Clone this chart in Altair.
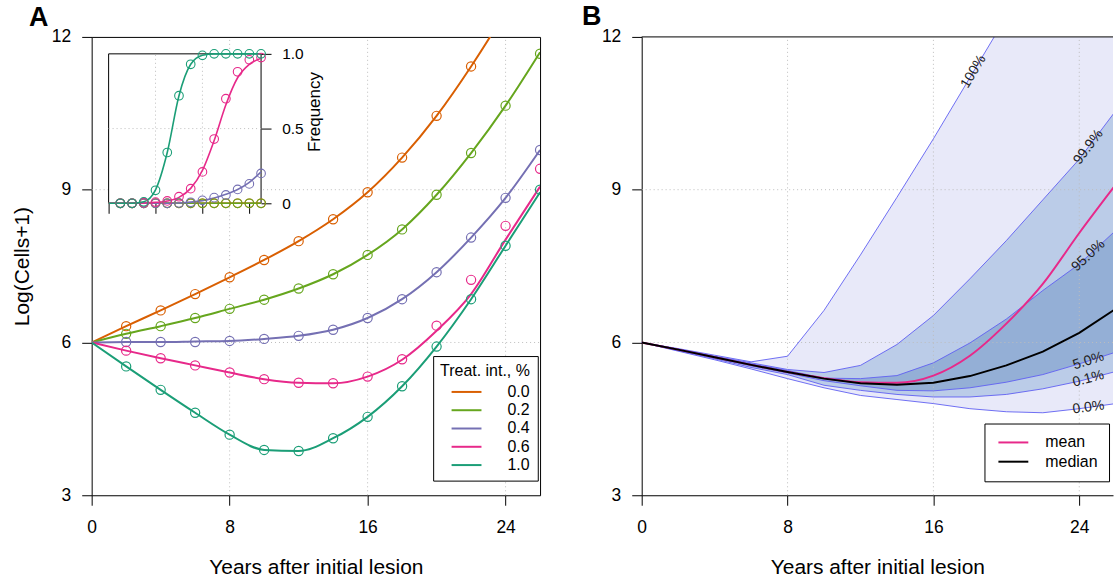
import altair as alt
import numpy as np
import pandas as pd

FONT = "Liberation Sans"
GRID = "#BDBDBD"

# ---------------- Panel A: growth under different treatment intensities ----------------
years_fit = [0, 2, 4, 6, 8, 10, 12, 14, 16, 18, 20, 22, 24, 26]
years_sim = [2, 4, 6, 8, 10, 12, 14, 16, 18, 20, 22, 24, 26]
treatments = ["0.0", "0.2", "0.4", "0.6", "1.0"]
treat_colors = ["#D95F02", "#66A61E", "#7570B3", "#E7298A", "#1B9E77"]

# fitted trajectories, log(cells+1)
fit_00 = [6.00, 6.32, 6.63, 6.95, 7.28, 7.62, 7.99, 8.42, 8.95, 9.63, 10.45, 11.42, 12.50, 13.70]
fit_02 = [6.00, 6.17, 6.32, 6.48, 6.66, 6.84, 7.06, 7.34, 7.72, 8.22, 8.90, 9.72, 10.65, 11.70]
fit_04 = [6.00, 6.01, 6.01, 6.02, 6.03, 6.07, 6.13, 6.25, 6.48, 6.85, 7.38, 8.06, 8.84, 9.78]
fit_06 = [6.00, 5.84, 5.69, 5.55, 5.41, 5.28, 5.21, 5.20, 5.33, 5.66, 6.23, 6.95, 8.02, 9.06]
fit_10 = [6.00, 5.53, 5.07, 4.62, 4.19, 3.89, 3.87, 4.12, 4.54, 5.14, 5.92, 6.85, 7.90, 8.95]

# simulated averages, log(cells+1)
sim_00 = [6.32, 6.63, 6.95, 7.28, 7.62, 7.99, 8.42, 8.95, 9.63, 10.45, 11.42, 12.55, 13.75]
sim_02 = [6.17, 6.32, 6.48, 6.66, 6.84, 7.06, 7.34, 7.72, 8.22, 8.90, 9.72, 10.65, 11.67]
sim_04 = [6.01, 6.01, 6.01, 6.03, 6.07, 6.13, 6.25, 6.48, 6.85, 7.38, 8.06, 8.84, 9.78]
sim_06 = [5.84, 5.69, 5.55, 5.41, 5.28, 5.21, 5.20, 5.33, 5.67, 6.33, 7.23, 8.29, 9.41]
sim_10 = [5.53, 5.07, 4.62, 4.19, 3.89, 3.87, 4.12, 4.54, 5.14, 5.92, 6.85, 7.90, 9.00]

# inset: frequency of resistant cells
freq_fit_00 = [0, 0, 0, 0, 0, 0, 0, 0, 0, 0, 0, 0, 0, 0]
freq_fit_02 = [0, 0, 0, 0, 0, 0, 0, 0, 0, 0, 0, 0, 0, 0]
freq_fit_04 = [0, 0, 0, 0, 0, 0, 0.002, 0.008, 0.018, 0.035, 0.06, 0.092, 0.14, 0.21]
freq_fit_06 = [0, 0, 0, 0.002, 0.006, 0.015, 0.04, 0.10, 0.22, 0.42, 0.66, 0.84, 0.93, 0.97]
freq_fit_10 = [0, 0, 0, 0.01, 0.09, 0.34, 0.72, 0.93, 0.99, 1.0, 1.0, 1.0, 1.0, 1.0]

freq_sim_00 = [0, 0, 0, 0, 0, 0, 0, 0, 0, 0, 0, 0, 0]
freq_sim_02 = [0, 0, 0, 0, 0, 0, 0, 0, 0, 0, 0, 0, 0]
freq_sim_04 = [0, 0, 0, 0, 0, 0.002, 0.007, 0.02, 0.038, 0.056, 0.093, 0.13, 0.2]
freq_sim_06 = [0, 0, 0.004, 0.008, 0.016, 0.044, 0.098, 0.21, 0.43, 0.70, 0.88, 0.96, 0.975]
freq_sim_10 = [0, 0, 0.01, 0.087, 0.34, 0.72, 0.93, 0.99, 1.0, 1.0, 1.0, 1.0, 1.0]

x_ticks = [0, 8, 16, 24]
y_ticks = [3, 6, 9, 12]
x_grid = [8, 16, 24]
y_grid = [6, 9]
inset_x_ticks = [0, 8, 16, 24]
inset_y_ticks = [0, 0.5, 1]
inset_x_grid = [8, 16]
inset_y_grid = [0.5]

# ---------------- Panel B: distribution of simulated outcomes ----------------
years_b = [0, 2, 4, 6, 8, 10, 12, 14, 16, 18, 20, 22, 24, 26]
q000 = [6.0, 5.83, 5.66, 5.48, 5.29, 5.11, 4.96, 4.88, 4.80, 4.70, 4.64, 4.62, 4.70, 4.80]
q001 = [6.0, 5.84, 5.68, 5.51, 5.37, 5.16, 5.06, 4.98, 4.93, 4.93, 4.98, 5.09, 5.24, 5.43]
q050 = [6.0, 5.85, 5.70, 5.54, 5.40, 5.25, 5.15, 5.06, 5.05, 5.11, 5.22, 5.37, 5.58, 5.81]
q950 = [6.0, 5.87, 5.72, 5.58, 5.45, 5.30, 5.29, 5.35, 5.60, 5.99, 6.46, 7.02, 7.54, 8.20]
q999 = [6.0, 5.87, 5.73, 5.60, 5.47, 5.41, 5.55, 5.96, 6.53, 7.25, 8.00, 8.80, 9.60, 10.55]
q100 = [6.0, 5.88, 5.75, 5.62, 5.73, 6.63, 7.72, 8.85, 10.0, 11.2, 12.4, 13.5, 14.7, 15.8]
median_b = [6.0, 5.86, 5.71, 5.56, 5.42, 5.29, 5.20, 5.17, 5.21, 5.34, 5.55, 5.82, 6.19, 6.66]
mean_b = [6.0, 5.86, 5.71, 5.56, 5.42, 5.30, 5.22, 5.21, 5.35, 5.74, 6.37, 7.15, 8.15, 9.10]
band_labels = ["0.0%", "0.1%", "5.0%", "95.0%", "99.9%", "100%"]
band_label_years = [24.5, 24.5, 24.5, 24.5, 24.5, 18.2]

WIDTH_A, WIDTH_B, HEIGHT = 450, 473, 460
XMAX_A, XMAX_B = 26, 25.85
Y_DOMAIN = [3, 12]


def long_frame(years, series, name):
    rows = []
    for trt, vals in zip(treatments, series):
        for yr, v in zip(years, vals):
            rows.append({"year": yr, name: v, "treat": trt})
    return pd.DataFrame(rows)


df_fit = long_frame(years_fit, [fit_00, fit_02, fit_04, fit_06, fit_10], "logc")
df_sim = long_frame(years_sim, [sim_00, sim_02, sim_04, sim_06, sim_10], "logc")
df_ffit = long_frame(years_fit, [freq_fit_00, freq_fit_02, freq_fit_04, freq_fit_06, freq_fit_10], "freq")
df_fsim = long_frame(years_sim, [freq_sim_00, freq_sim_02, freq_sim_04, freq_sim_06, freq_sim_10], "freq")


def x_axis(width, domain):
    return alt.Axis(
        values=x_ticks, title="Years after initial lesion", grid=False,
        domain=domain, domainColor="black", domainWidth=1,
        tickSize=10, tickColor="black", tickWidth=1,
        labelPadding=13, labelFontSize=17.5, labelColor="black", labelFont=FONT,
        labelFlush=False, labelOverlap=False,
        titleFont=FONT, titleFontSize=21, titleFontWeight="normal", titleColor="black",
        titleX=width / 2, titleY=62, titleAlign="center", titleBaseline="top",
    )


def y_axis(title, domain):
    kw = dict(
        values=y_ticks, grid=False, domain=domain, domainColor="black", domainWidth=1,
        tickSize=10, tickColor="black", tickWidth=1,
        labelPadding=11, labelFontSize=17.5, labelColor="black", labelFont=FONT,
        labelFlush=False, labelOverlap=False,
    )
    if title:
        kw.update(title=title, titleFont=FONT, titleFontSize=21, titleFontWeight="normal",
                  titleColor="black", titleAngle=270, titleX=-63.7, titleY=HEIGHT / 2,
                  titleAlign="center", titleBaseline="alphabetic")
    else:
        kw.update(title=None)
    return alt.Axis(**kw)


# ---- Panel A main plot ----
legend_a = alt.Legend(
    title="Treat. int., %", orient="none", legendX=342.7, legendY=320.3,
    fillColor="white", strokeColor="black", padding=7,
    titleFont=FONT, titleFontSize=16, titleFontWeight="normal", titleColor="black", titlePadding=5,
    labelFont=FONT, labelFontSize=16, labelColor="black",
    symbolType="M-3,0H3", symbolSize=100, symbolStrokeWidth=2, symbolFillColor="transparent",
    symbolOffset=18.5, labelOffset=33, rowPadding=2.35,
)
color_a = alt.Color("treat:N", scale=alt.Scale(domain=treatments, range=treat_colors), legend=legend_a)

x_a_scale = alt.Scale(domain=[0, XMAX_A], nice=False, zero=False)
y_scale = alt.Scale(domain=Y_DOMAIN, nice=False, zero=False)
x_a = alt.X("year:Q", scale=x_a_scale, axis=x_axis(WIDTH_A, False))
y_a = alt.Y("logc:Q", scale=y_scale, axis=y_axis("Log(Cells+1)", False))

grid_a_v = alt.Chart(pd.DataFrame({"year": x_grid})).mark_rule(
    color=GRID, strokeDash=[1, 3], strokeWidth=1
).encode(x=x_a, y=alt.datum(Y_DOMAIN[0]), y2=alt.datum(Y_DOMAIN[1]))
grid_a_h = alt.Chart(pd.DataFrame({"logc": y_grid})).mark_rule(
    color=GRID, strokeDash=[1, 3], strokeWidth=1
).encode(y=y_a, x=alt.datum(0), x2=alt.datum(XMAX_A))

lines_a = alt.Chart(df_fit).mark_line(strokeWidth=2, interpolate="monotone", clip=True).encode(
    x=x_a, y=y_a, color=color_a
)
pts_a = alt.Chart(df_sim).mark_point(
    shape="circle", filled=False, size=85, strokeWidth=1.2, opacity=1, clip=True
).encode(x=x_a, y=y_a, color=color_a)
tag_a = alt.Chart(pd.DataFrame({"tag": ["A"]})).mark_text(
    font=FONT, fontSize=27, fontWeight="bold", align="left", baseline="alphabetic", color="black"
).encode(x=alt.value(-63), y=alt.value(-11), text="tag:N")

main_a = alt.layer(grid_a_v, grid_a_h, lines_a, pts_a, tag_a)

# ---- Panel A inset (frequency) ----
x_in_scale = alt.Scale(domain=[0, XMAX_A], range=[17, 170], nice=False, zero=False)
y_in_scale = alt.Scale(domain=[0, 1], range=[167, 17], nice=False, zero=False)
x_in_axis = alt.Axis(
    values=inset_x_ticks, labels=False, title=None, grid=False, domain=False,
    orient="bottom", offset=-293, tickSize=10, tickColor="black", tickWidth=1,
)
y_in_axis = alt.Axis(
    values=inset_y_ticks, orient="right", offset=-280, grid=False, domain=False,
    tickSize=10, tickColor="black", tickWidth=1,
    labelExpr="datum.value == 0 ? '0' : format(datum.value, '.1f')",
    labelPadding=10.7, labelFontSize=15.5, labelColor="black", labelFont=FONT,
    labelFlush=False, labelOverlap=False, labelBaseline="middle",
    title="Frequency", titleFont=FONT, titleFontSize=17, titleFontWeight="normal",
    titleColor="black", titleAngle=270, titleX=59, titleY=75,
    titleAlign="center", titleBaseline="alphabetic",
)
x_in = alt.X("year:Q", scale=x_in_scale, axis=x_in_axis)
y_in = alt.Y("freq:Q", scale=y_in_scale, axis=y_in_axis)

box_in = alt.Chart(pd.DataFrame({"year": [0], "year2": [XMAX_A], "freq": [0], "freq2": [1]})).mark_rect(
    fill="white", stroke="black", strokeWidth=1
).encode(x=x_in, x2="year2:Q", y=y_in, y2="freq2:Q")
grid_in_v = alt.Chart(pd.DataFrame({"year": inset_x_grid})).mark_rule(
    color=GRID, strokeDash=[1, 3], strokeWidth=1
).encode(x=x_in, y=alt.datum(0), y2=alt.datum(1))
grid_in_h = alt.Chart(pd.DataFrame({"freq": inset_y_grid})).mark_rule(
    color=GRID, strokeDash=[1, 3], strokeWidth=1
).encode(y=y_in, x=alt.datum(0), x2=alt.datum(XMAX_A))
lines_in = alt.Chart(df_ffit).mark_line(strokeWidth=1.6, interpolate="monotone").encode(
    x=x_in, y=y_in, color=color_a
)
pts_in = alt.Chart(df_fsim).mark_point(
    shape="circle", filled=False, size=75, strokeWidth=1.1, opacity=1
).encode(x=x_in, y=y_in, color=color_a)

inset_a = alt.layer(box_in, grid_in_v, grid_in_h, lines_in, pts_in)

panel_a = alt.layer(main_a, inset_a).resolve_scale(x="independent", y="independent").properties(
    width=WIDTH_A, height=HEIGHT, view=alt.ViewBackground(stroke="black", strokeWidth=1)
)

# ---- Panel B ----
df_b = pd.DataFrame({
    "year": years_b, "q000": q000, "q001": q001, "q050": q050,
    "q950": q950, "q999": q999, "q100": q100,
})
band_cols = ["q000", "q001", "q050", "q950", "q999", "q100"]
df_qlines = df_b.melt(id_vars="year", value_vars=band_cols, var_name="quant", value_name="logc")
df_stat = pd.concat([
    pd.DataFrame({"year": years_b, "logc": mean_b, "stat": "mean"}),
    pd.DataFrame({"year": years_b, "logc": median_b, "stat": "median"}),
])

# labels sit on their quantile line, rotated along the local slope
px_per_year = WIDTH_B / XMAX_B
px_per_unit = HEIGHT / (Y_DOMAIN[1] - Y_DOMAIN[0])
lab_rows = []
for name, col, t_lab in zip(band_labels, band_cols, band_label_years):
    vals = df_b[col].to_numpy()
    v = float(np.interp(t_lab, years_b, vals))
    i = int(np.searchsorted(years_b, t_lab))
    slope = (vals[i] - vals[i - 1]) / (years_b[i] - years_b[i - 1])
    ang = np.degrees(np.arctan(slope * px_per_unit / px_per_year))
    lab_rows.append({"year": t_lab, "logc": v, "angle": (360 - ang) % 360, "label": name})
df_lab = pd.DataFrame(lab_rows)

x_b_scale = alt.Scale(domain=[0, XMAX_B], nice=False, zero=False)
x_b = alt.X("year:Q", scale=x_b_scale, axis=x_axis(WIDTH_B, True))
y_b = alt.Y("logc:Q", scale=y_scale, axis=y_axis(None, True))


def band(lo, hi, fill):
    return alt.Chart(df_b).mark_area(color=fill, opacity=1, clip=True).encode(
        x=x_b, y=alt.Y(f"{lo}:Q", scale=y_scale, axis=y_axis(None, True)), y2=f"{hi}:Q"
    )


band_outer = band("q000", "q100", "#E8E9F9")
band_mid = band("q001", "q999", "#BBCCE8")
band_inner = band("q050", "q950", "#94AFD6")

grid_b_v = alt.Chart(pd.DataFrame({"year": x_grid})).mark_rule(
    color=GRID, strokeDash=[1, 3], strokeWidth=1
).encode(x=x_b, y=alt.datum(Y_DOMAIN[0]), y2=alt.datum(Y_DOMAIN[1]))
grid_b_h = alt.Chart(pd.DataFrame({"logc": y_grid})).mark_rule(
    color=GRID, strokeDash=[1, 3], strokeWidth=1
).encode(y=y_b, x=alt.datum(0), x2=alt.datum(XMAX_B))

qlines = alt.Chart(df_qlines).mark_line(color="#6060F2", strokeWidth=1, opacity=0.9, clip=True).encode(
    x=x_b, y=y_b, detail="quant:N"
)

legend_b = alt.Legend(
    title=None, orient="none", legendX=344, legendY=388,
    fillColor="white", strokeColor="black", padding=11,
    labelFont=FONT, labelFontSize=16, labelColor="black",
    symbolType="M-3,0H3", symbolSize=100, symbolStrokeWidth=2, symbolFillColor="transparent",
    symbolOffset=10, labelOffset=24, rowPadding=3.3,
)
color_b = alt.Color("stat:N", scale=alt.Scale(domain=["mean", "median"], range=["#E7298A", "black"]),
                    legend=legend_b)

mean_line = alt.Chart(df_stat).transform_filter(alt.datum.stat == "mean").mark_line(
    strokeWidth=2, interpolate="monotone", clip=True
).encode(x=x_b, y=y_b, color=color_b)
median_line = alt.Chart(df_stat).transform_filter(alt.datum.stat == "median").mark_line(
    strokeWidth=2, clip=True
).encode(x=x_b, y=y_b, color=color_b)

labels_b = alt.Chart(df_lab).mark_text(
    font=FONT, fontSize=14, color="#222222", align="center", baseline="middle", clip=True
).encode(x=x_b, y=y_b, text="label:N", angle=alt.Angle("angle:Q", scale=None))

top_b = alt.Chart(pd.DataFrame({"k": [0]})).mark_rule(color="black", strokeWidth=1).encode(
    x=alt.value(0), x2=alt.value(WIDTH_B), y=alt.value(0)
)
tag_b = alt.Chart(pd.DataFrame({"tag": ["B"]})).mark_text(
    font=FONT, fontSize=27, fontWeight="bold", align="left", baseline="alphabetic", color="black"
).encode(x=alt.value(-60), y=alt.value(-12), text="tag:N")

panel_b = alt.layer(
    band_outer, band_mid, band_inner, grid_b_v, grid_b_h, qlines,
    mean_line, median_line, labels_b, top_b, tag_b
).properties(width=WIDTH_B, height=HEIGHT)

chart = alt.hconcat(panel_a, panel_b, spacing=40).resolve_scale(color="independent").properties(
    padding={"left": 10, "top": 1, "right": 0, "bottom": 0}, background="white"
).configure_view(stroke="transparent")

chart.save("out.html", embed_options={"renderer": "svg", "actions": False})
